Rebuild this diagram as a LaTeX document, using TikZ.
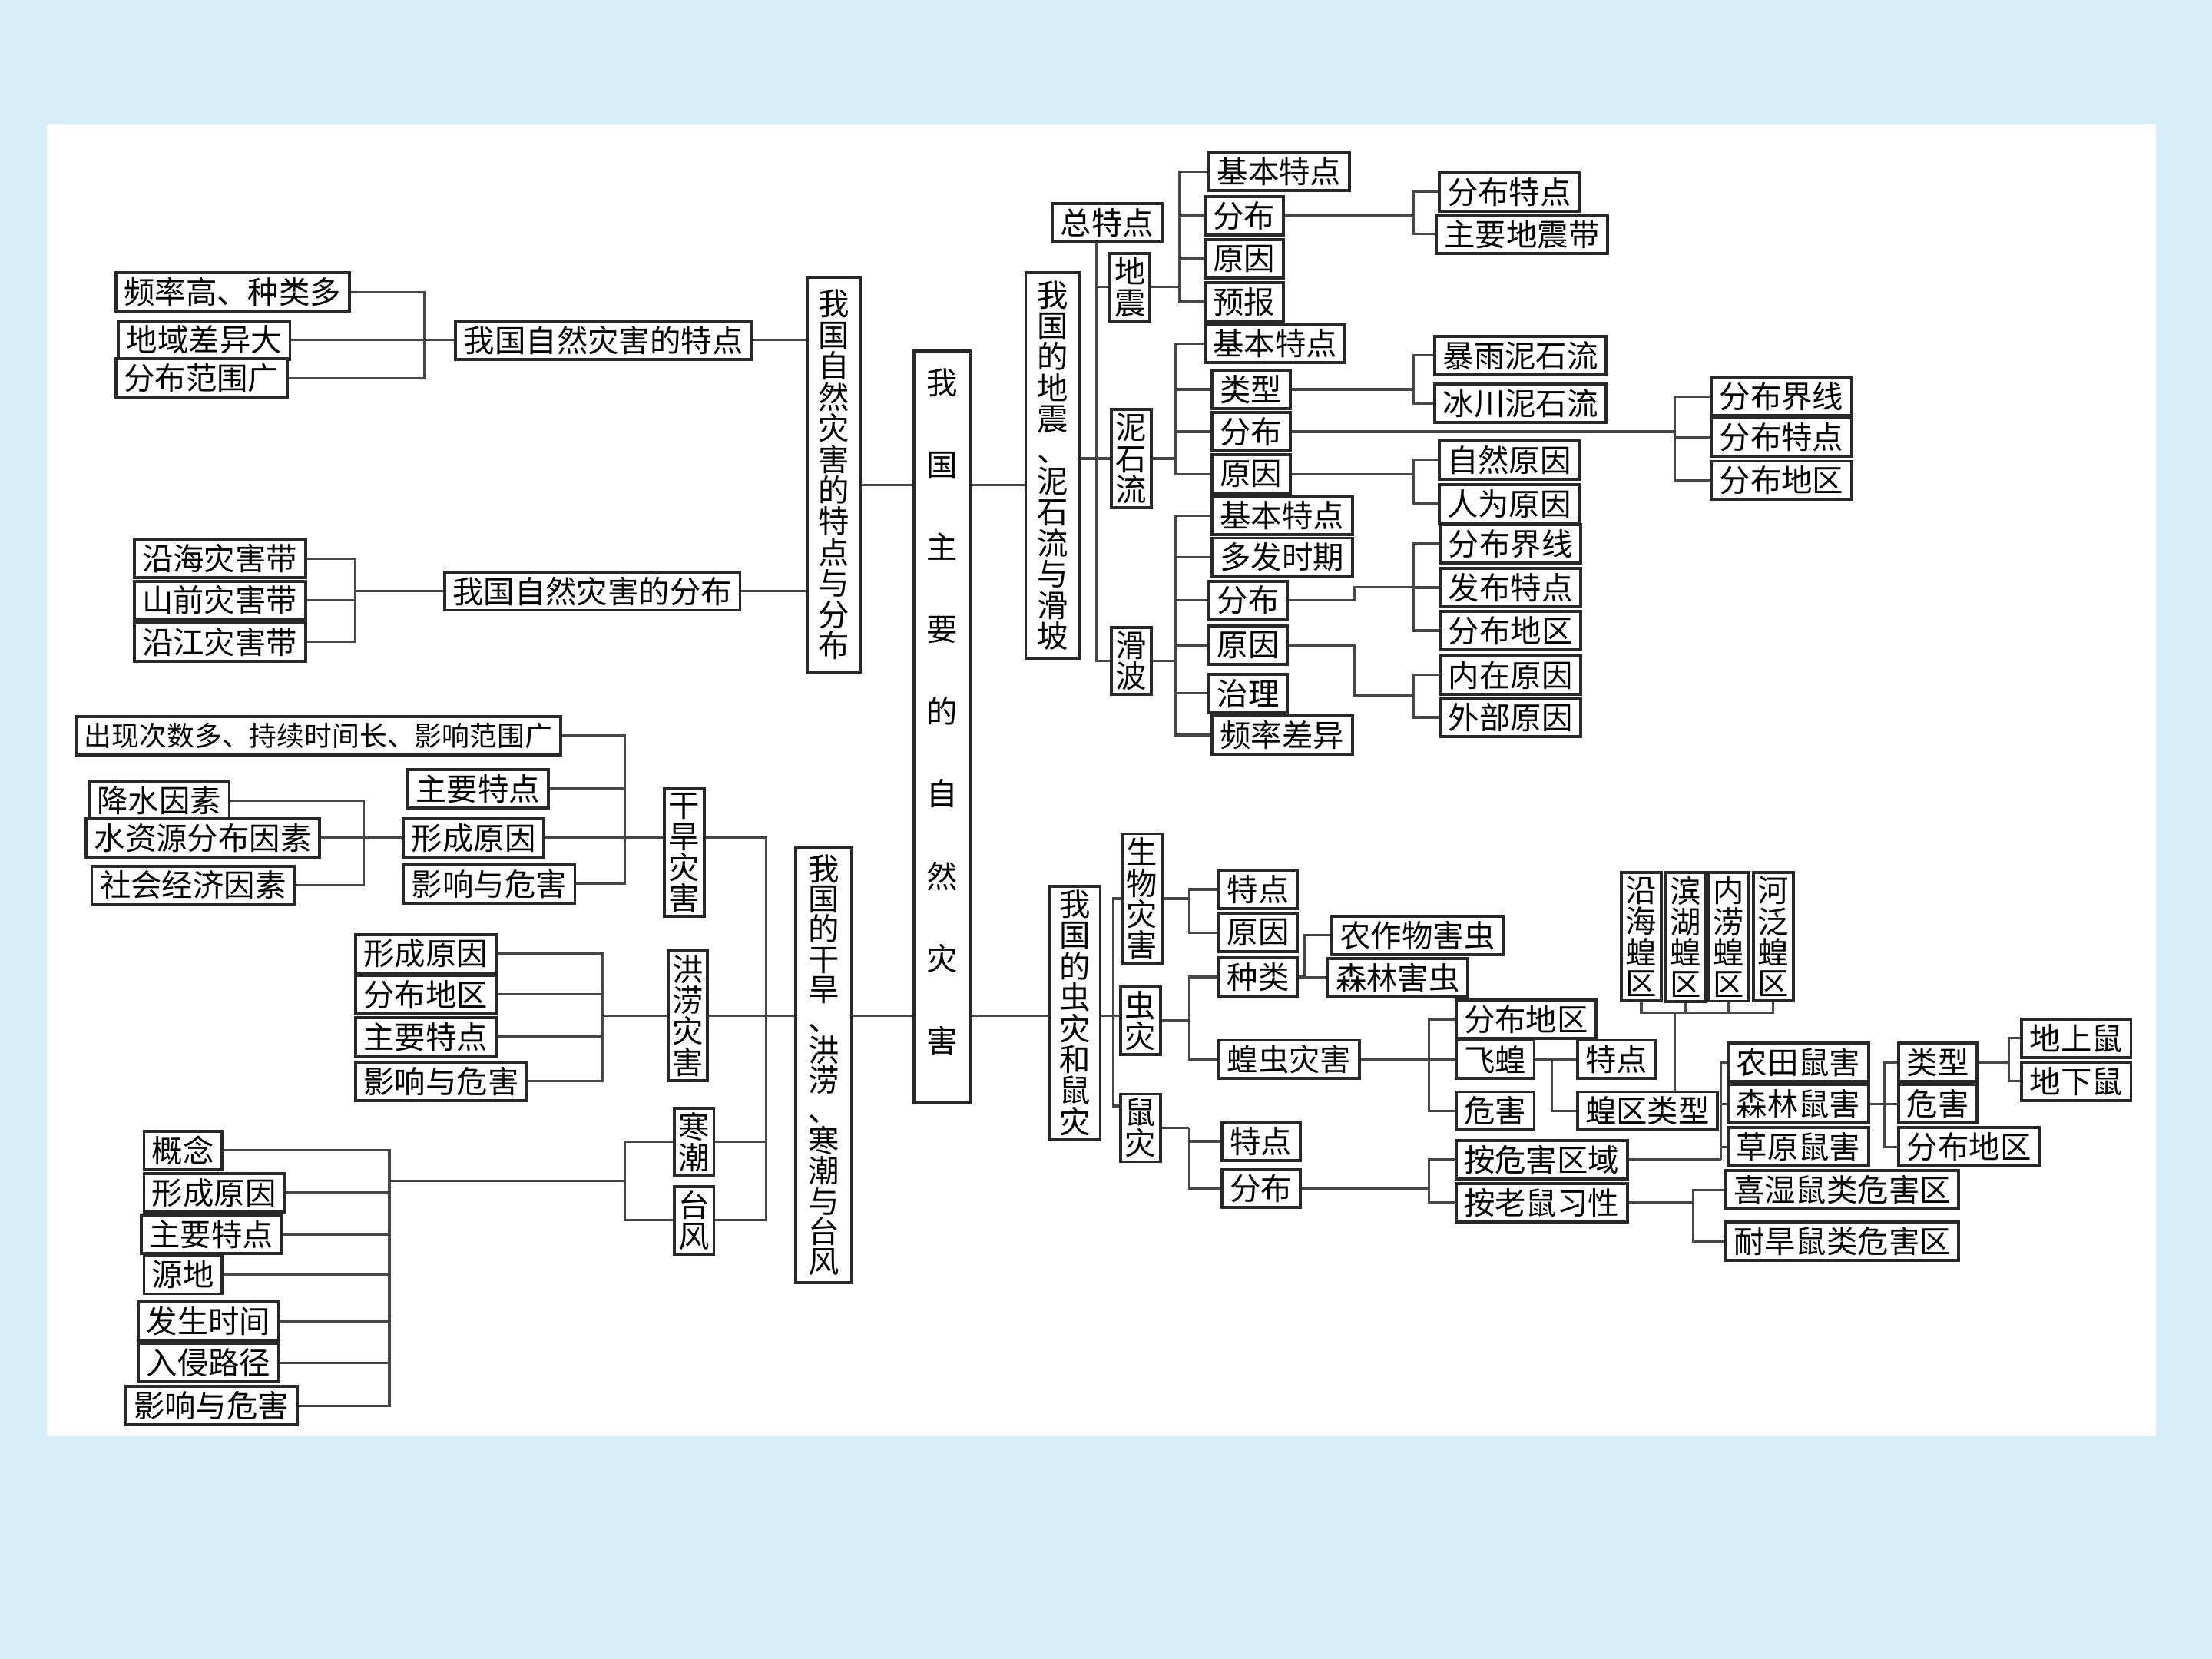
\documentclass[tikz,border=0pt]{standalone}
\usepackage{fontspec}
\setmainfont{Noto Sans CJK SC}
\usepackage{tikz}

\definecolor{bgblue}{RGB}{214,238,248}
\definecolor{boxline}{RGB}{40,40,40}
\definecolor{linkgray}{RGB}{70,70,70}

\begin{document}
\begin{tikzpicture}[
    x=0.018367cm, y=-0.018367cm,
    box/.style={draw=boxline, line width=1.1pt, fill=white, inner xsep=3pt,
                inner ysep=1.5pt, minimum height=14.2pt,
                font={\fontsize{11.5}{11.5}\selectfont}},
    hbox/.style={box, anchor=west},
    vbox/.style={box, align=center, inner xsep=1.6pt},
    ln/.style={draw=linkgray, line width=0.9pt},
  ]
  % page and panel
  \fill[bgblue] (0,0) rectangle (1568,1176);
  \fill[white] (33,88) rectangle (1528,1018);

  % root and first level
  \node[vbox, minimum width=20.8pt, minimum height=278.6pt,
        font={\fontsize{11.5}{30.5}\selectfont}] (root) at (668,515.5)
    {我\\国\\主\\要\\的\\自\\然\\灾\\害\\[-18pt]\mbox{}};
  \node[vbox, minimum width=19.8pt, minimum height=146pt] (feat) at (591,336.5)
    {我\\国\\自\\然\\灾\\害\\的\\特\\点\\与\\分\\布};
  \node[vbox, minimum width=19.8pt, minimum height=143pt] (quake) at (746,330)
    {我\\国\\的\\地\\震\\、\\泥\\石\\流\\与\\滑\\坡};
  \node[vbox, minimum width=20.8pt, minimum height=161pt,
        font={\fontsize{11.5}{11.2}\selectfont}] (drought) at (584,755)
    {我\\国\\的\\干\\旱\\、\\洪\\涝\\、\\寒\\潮\\与\\台\\风};
  \node[vbox, minimum width=18.7pt] (pest) at (762,718)
    {我\\国\\的\\虫\\灾\\和\\鼠\\灾};

  % features and distribution
  \node[hbox] (featT) at (322,241) {我国自然灾害的特点};
  \node[hbox] (featD) at (314,419) {我国自然灾害的分布};
  \node[hbox] (ft1) at (81,207) {频率高、种类多};
  \node[hbox] (ft2) at (83,241) {地域差异大};
  \node[hbox] (ft3) at (81,268) {分布范围广};
  \node[hbox] (fd1) at (94,396) {沿海灾害带};
  \node[hbox] (fd2) at (94,425.5) {山前灾害带};
  \node[hbox] (fd3) at (94,455) {沿江灾害带};

  % earthquake, debris flow, landslide
  \node[hbox] (zt) at (745,158) {总特点};
  \node[vbox] (eq) at (801,203.5) {地\\震};
  \node[vbox] (mf) at (802,325) {泥\\石\\流};
  \node[vbox] (ls) at (802,468.5) {滑\\波};
  \node[hbox] (e1) at (856,121.5) {基本特点};
  \node[hbox] (e2) at (853,153) {分布};
  \node[hbox] (e3) at (853,183.5) {原因};
  \node[hbox] (e4) at (853,214) {预报};
  \node[hbox] (es1) at (1019,136) {分布特点};
  \node[hbox] (es2) at (1017,166) {主要地震带};
  \node[hbox] (m1) at (853,243.5) {基本特点};
  \node[hbox] (m2) at (858,276) {类型};
  \node[hbox] (m3) at (858,306) {分布};
  \node[hbox] (m4) at (858,336) {原因};
  \node[hbox] (mt1) at (1016,252) {暴雨泥石流};
  \node[hbox] (mt2) at (1016,286) {冰川泥石流};
  \node[hbox] (md1) at (1212,281) {分布界线};
  \node[hbox] (md2) at (1212,310) {分布特点};
  \node[hbox] (md3) at (1212,340.5) {分布地区};
  \node[hbox] (mr1) at (1019,326) {自然原因};
  \node[hbox] (mr2) at (1019,357) {人为原因};
  \node[hbox] (s1) at (858,365.5) {基本特点};
  \node[hbox] (s2) at (858,395) {多发时期};
  \node[hbox] (s3) at (856,425.5) {分布};
  \node[hbox] (s4) at (856,457.5) {原因};
  \node[hbox] (s5) at (856,491.5) {治理};
  \node[hbox] (s6) at (858,521) {频率差异};
  \node[hbox] (sd1) at (1020,385.5) {分布界线};
  \node[hbox] (sd2) at (1020,416.5) {发布特点};
  \node[hbox] (sd3) at (1020,447) {分布地区};
  \node[hbox] (sr1) at (1020,478.5) {内在原因};
  \node[hbox] (sr2) at (1020,508.5) {外部原因};

  % drought, flood, cold wave, typhoon
  \node[vbox] (gh) at (485,604.5) {干\\旱\\灾\\害};
  \node[vbox] (hl) at (487.5,720) {洪\\涝\\灾\\害};
  \node[vbox] (hc) at (492,809.5) {寒\\潮};
  \node[vbox] (tf) at (492,865) {台\\风};
  \node[hbox, font={\fontsize{10.2}{11}\selectfont}] (g1) at (53,521.5)
    {出现次数多、持续时间长、影响范围广};
  \node[hbox] (g2) at (288,559) {主要特点};
  \node[hbox] (g3) at (285,594) {形成原因};
  \node[hbox] (g4) at (285,626.5) {影响与危害};
  \node[hbox] (gc1) at (62,567.5) {降水因素};
  \node[hbox] (gc2) at (60,594) {水资源分布因素};
  \node[hbox] (gc3) at (64,627.5) {社会经济因素};
  \node[hbox] (h1) at (251,676) {形成原因};
  \node[hbox] (h2) at (251,705) {分布地区};
  \node[hbox] (h3) at (251,735) {主要特点};
  \node[hbox] (h4) at (251,766.5) {影响与危害};
  \node[hbox] (t1) at (101,815.5) {概念};
  \node[hbox] (t2) at (101,845.5) {形成原因};
  \node[hbox] (t3) at (99,875) {主要特点};
  \node[hbox] (t4) at (101,903.5) {源地};
  \node[hbox] (t5) at (97,936.5) {发生时间};
  \node[hbox] (t6) at (97,966) {入侵路径};
  \node[hbox] (t7) at (88,996.5) {影响与危害};

  % pests and rodents
  \node[vbox] (bio) at (809.5,637) {生\\物\\灾\\害};
  \node[vbox] (insect) at (808.5,723.5) {虫\\灾};
  \node[vbox] (rat) at (808.5,799.5) {鼠\\灾};
  \node[hbox] (b1) at (863,630.5) {特点};
  \node[hbox] (b2) at (863,661) {原因};
  \node[hbox] (i1) at (863,692.5) {种类};
  \node[hbox] (i2) at (863,751) {蝗虫灾害};
  \node[hbox] (ic1) at (943,663) {农作物害虫};
  \node[hbox] (ic2) at (940,693) {森林害虫};
  \node[hbox] (l1) at (1031,722.5) {分布地区};
  \node[hbox] (l2) at (1031,751) {飞蝗};
  \node[hbox] (l3) at (1031,787.5) {危害};
  \node[hbox] (f1) at (1117,751) {特点};
  \node[hbox] (hq) at (1117,787.5) {蝗区类型};
  \node[vbox] (z1) at (1163.5,664) {沿\\海\\蝗\\区};
  \node[vbox] (z2) at (1195,664) {滨\\湖\\蝗\\区};
  \node[vbox] (z3) at (1225.5,664) {内\\涝\\蝗\\区};
  \node[vbox] (z4) at (1257,664) {河\\泛\\蝗\\区};
  \node[hbox] (r1) at (865,809) {特点};
  \node[hbox] (r2) at (865,842.5) {分布};
  \node[hbox] (aw) at (1031,822) {按危害区域};
  \node[hbox] (ax) at (1031,852.5) {按老鼠习性};
  \node[hbox] (w1) at (1224,753) {农田鼠害};
  \node[hbox] (w2) at (1224,782.5) {森林鼠害};
  \node[hbox] (w3) at (1224,813) {草原鼠害};
  \node[hbox] (k1) at (1345,753) {类型};
  \node[hbox] (k2) at (1345,782.5) {危害};
  \node[hbox] (k3) at (1345,813) {分布地区};
  \node[hbox] (u1) at (1432,736) {地上鼠};
  \node[hbox] (u2) at (1432,766.5) {地下鼠};
  \node[hbox] (x1) at (1222,843.5) {喜湿鼠类危害区};
  \node[hbox] (x2) at (1222,880) {耐旱鼠类危害区};

  % bracket positions
  \coordinate (upper) at (0,344);
  \coordinate (lower) at (0,720);
  \coordinate (kFT) at (301,0);
  \coordinate (kFD) at (252,0);
  \coordinate (kQ) at (777,0);
  \coordinate (kE) at (836,0);
  \coordinate (kE2) at (1002,0);
  \coordinate (kM) at (833,0);
  \coordinate (kMT) at (1002,0);
  \coordinate (kMD) at (1187,0);
  \coordinate (kMR) at (1002,0);
  \coordinate (kS) at (833,0);
  \coordinate (jS3) at (960,416);
  \coordinate (jS4) at (960,493);
  \coordinate (kSD) at (1002,0);
  \coordinate (kG) at (443,0);
  \coordinate (kGC) at (258,0);
  \coordinate (kC) at (543,0);
  \coordinate (kH) at (427,0);
  \coordinate (tJ) at (443,837);
  \coordinate (kT) at (276,0);
  \coordinate (kD) at (789,0);
  \coordinate (rJ) at (0,784);
  \coordinate (kB) at (843,0);
  \coordinate (kIC) at (925,0);
  \coordinate (kL) at (1013,0);
  \coordinate (kF) at (1100,0);
  \coordinate (jZ) at (1187,718);
  \coordinate (kW) at (1220,0);
  \coordinate (kSL) at (1336,0);
  \coordinate (kU) at (1424,0);
  \coordinate (kX) at (1200,0);

  % centre links
  \draw[ln] (feat.east |- upper) -- (root.west |- upper);
  \draw[ln] (root.east |- upper) -- (quake.west |- upper);
  \draw[ln] (drought.east |- lower) -- (root.west |- lower);
  \draw[ln] (root.east |- lower) -- (pest.west |- lower);

  % features and distribution
  \draw[ln] (featT.east) -- (feat.west |- featT.east);
  \draw[ln] (featD.east) -- (feat.west |- featD.east);
  \draw[ln] (featT.west) -- (kFT |- featT.west)
    (ft1.east) -| (kFT |- featT.west) (ft2.east) -| (kFT |- featT.west)
    (ft3.east) -| (kFT |- featT.west);
  \draw[ln] (featD.west) -- (kFD |- featD.west)
    (fd1.east) -| (kFD |- featD.west) (fd2.east) -| (kFD |- featD.west)
    (fd3.east) -| (kFD |- featD.west);

  % earthquake, debris flow, landslide
  \draw[ln] (zt.south -| kQ) -- (kQ |- ls.west) -- (ls.west);
  \draw[ln] (kQ |- eq.west) -- (eq.west);
  \draw[ln] (quake.east |- mf.west) -- (mf.west);
  \draw[ln] (eq.east) -- (kE |- eq.east)
    (e1.west) -| (kE |- eq.east) (e2.west) -| (kE |- eq.east)
    (e3.west) -| (kE |- eq.east) (e4.west) -| (kE |- eq.east);
  \draw[ln] (e2.east) -- (kE2 |- e2.east)
    (es1.west) -| (kE2 |- e2.east) (es2.west) -| (kE2 |- e2.east);
  \draw[ln] (mf.east) -- (kM |- mf.east)
    (m1.west) -| (kM |- mf.east) (m2.west) -| (kM |- mf.east)
    (m3.west) -| (kM |- mf.east) (m4.west) -| (kM |- mf.east);
  \draw[ln] (m2.east) -- (kMT |- m2.east)
    (mt1.west) -| (kMT |- m2.east) (mt2.west) -| (kMT |- m2.east);
  \draw[ln] (m3.east) -- (kMD |- m3.east)
    (md1.west) -| (kMD |- m3.east) (md2.west) -| (kMD |- m3.east)
    (md3.west) -| (kMD |- m3.east);
  \draw[ln] (m4.east) -- (kMR |- m4.east)
    (mr1.west) -| (kMR |- m4.east) (mr2.west) -| (kMR |- m4.east);
  \draw[ln] (ls.east) -- (kS |- ls.east)
    (s1.west) -| (kS |- ls.east) (s2.west) -| (kS |- ls.east)
    (s3.west) -| (kS |- ls.east) (s4.west) -| (kS |- ls.east)
    (s5.west) -| (kS |- ls.east) (s6.west) -| (kS |- ls.east);
  \draw[ln] (s3.east) -| (jS3) -- (kSD |- jS3)
    (sd1.west) -| (kSD |- jS3) (sd2.west) -| (kSD |- jS3)
    (sd3.west) -| (kSD |- jS3);
  \draw[ln] (s4.east) -| (jS4) -- (kSD |- jS4)
    (sr1.west) -| (kSD |- jS4) (sr2.west) -| (kSD |- jS4);

  % drought, flood, cold wave, typhoon
  \draw[ln] (gh.east |- g3.east) -| (kC |- tf.east) -- (tf.east);
  \draw[ln] (hc.east) -- (kC |- hc.east);
  \draw[ln] (hl.east) -- (drought.west |- hl.east);
  \draw[ln] (g3.east) -- (gh.west |- g3.east)
    (g1.east) -| (kG |- g3.east) (g2.east) -| (kG |- g3.east)
    (g4.east) -| (kG |- g3.east);
  \draw[ln] (g3.west) -- (kGC |- g3.west)
    (gc1.east) -| (kGC |- g3.west) (gc2.east) -| (kGC |- g3.west)
    (gc3.east) -| (kGC |- g3.west);
  \draw[ln] (hl.west) -- (kH |- hl.west)
    (h1.east) -| (kH |- hl.west) (h2.east) -| (kH |- hl.west)
    (h3.east) -| (kH |- hl.west) (h4.east) -| (kH |- hl.west);
  \draw[ln] (hc.west) -| (tJ) (tf.west) -| (tJ) -- (kT |- tJ)
    (t1.east) -| (kT |- tJ) (t2.east) -| (kT |- tJ) (t3.east) -| (kT |- tJ)
    (t4.east) -| (kT |- tJ) (t5.east) -| (kT |- tJ) (t6.east) -| (kT |- tJ)
    (t7.east) -| (kT |- tJ);

  % pests and rodents
  \draw[ln] (pest.east |- lower) -- (insect.west |- lower)
    (bio.west) -| (kD |- lower) (rat.west |- rJ) -| (kD |- lower);
  \draw[ln] (bio.east) -- (kB |- bio.east)
    (b1.west) -| (kB |- bio.east) (b2.west) -| (kB |- bio.east);
  \draw[ln] (insect.east) -- (kB |- insect.east)
    (i1.west) -| (kB |- insect.east) (i2.west) -| (kB |- insect.east);
  \draw[ln] (i1.east) -- (kIC |- i1.east)
    (ic1.west) -| (kIC |- i1.east) (ic2.west) -| (kIC |- i1.east);
  \draw[ln] (i2.east) -- (kL |- i2.east)
    (l1.west) -| (kL |- i2.east) (l2.west) -| (kL |- i2.east)
    (l3.west) -| (kL |- i2.east);
  \draw[ln] (l2.east) -- (kF |- l2.east)
    (f1.west) -| (kF |- l2.east) (hq.west) -| (kF |- l2.east);
  \draw[ln] (hq.north -| jZ) -- (jZ)
    (z1.south) |- (jZ) (z2.south) |- (jZ) (z3.south) |- (jZ) (z4.south) |- (jZ);
  \draw[ln] (rat.east) -- (kB |- rat.east)
    (r1.west) -| (kB |- rat.east) (r2.west) -| (kB |- rat.east);
  \draw[ln] (r2.east) -- (kL |- r2.east)
    (aw.west) -| (kL |- r2.east) (ax.west) -| (kL |- r2.east);
  \draw[ln] (aw.east) -- (kW |- aw.east)
    (w1.west) -| (kW |- aw.east) (w2.west) -| (kW |- aw.east)
    (w3.west) -| (kW |- aw.east);
  \draw[ln] (w2.east) -- (kSL |- w2.east)
    (k1.west) -| (kSL |- w2.east) (k2.west) -| (kSL |- w2.east)
    (k3.west) -| (kSL |- w2.east);
  \draw[ln] (k1.east) -- (kU |- k1.east)
    (u1.west) -| (kU |- k1.east) (u2.west) -| (kU |- k1.east);
  \draw[ln] (ax.east) -- (kX |- ax.east)
    (x1.west) -| (kX |- ax.east) (x2.west) -| (kX |- ax.east);
\end{tikzpicture}
\end{document}
